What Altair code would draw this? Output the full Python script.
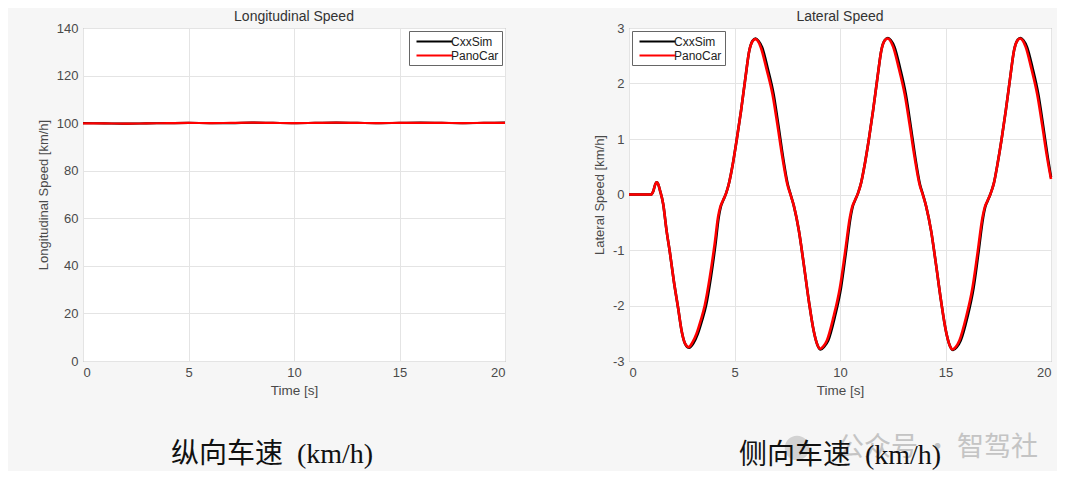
import altair as alt
import pandas as pd

# ---------------- data ----------------
series_names = ["CxxSim", "PanoCar"]
series_colors = ["#000000", "#ff0000"]

# Longitudinal speed [km/h] vs time [s]
lon_t = [0, 1, 2, 3, 4, 5, 6, 7, 8, 9, 10, 11, 12, 13, 14, 15, 16, 17, 18, 19, 20]
lon_cxx = [100.0, 99.9, 99.8, 99.9, 100.0, 100.1, 100.0, 100.0, 100.2, 100.1, 100.0,
           100.1, 100.2, 100.1, 100.0, 100.1, 100.2, 100.1, 100.0, 100.1, 100.2]
lon_pano = [99.9, 99.9, 99.8, 99.9, 100.0, 100.1, 100.0, 100.1, 100.2, 100.1, 100.0,
            100.1, 100.2, 100.1, 100.0, 100.1, 100.1, 100.1, 100.0, 100.1, 100.1]

# Lateral speed [km/h] vs time [s]
lat_pano_t = [0.0, 1.05, 1.15, 1.25, 1.31, 1.38, 1.47, 1.62, 1.78, 1.94, 2.12, 2.33, 2.49, 2.65,
              2.83, 3.00, 3.20, 3.40, 3.59, 3.83, 4.06, 4.22, 4.33, 4.45, 4.60, 4.73, 4.92, 5.11,
              5.31, 5.52, 5.70, 5.85, 5.98, 6.10, 6.25, 6.52, 6.80, 7.03, 7.27, 7.50, 7.65, 7.81,
              8.05, 8.28, 8.52, 8.75, 8.92, 9.06, 9.20, 9.38, 9.69, 10.00, 10.23, 10.47, 10.58,
              10.70, 10.85, 11.00, 11.18, 11.37, 11.57, 11.78, 11.96, 12.11, 12.25, 12.37, 12.52,
              12.79, 13.07, 13.30, 13.54, 13.77, 13.92, 14.08, 14.32, 14.55, 14.79, 15.02, 15.19,
              15.34, 15.48, 15.66, 15.97, 16.28, 16.51, 16.75, 16.86, 16.98, 17.13, 17.29, 17.47,
              17.66, 17.86, 18.07, 18.25, 18.40, 18.53, 18.65, 18.80, 19.07, 19.35, 19.58, 19.82,
              20.00]
lat_pano_v = [0.0, 0.0, 0.06, 0.19, 0.22, 0.19, 0.07, -0.17, -0.65, -1.05, -1.55, -2.05, -2.45, -2.68,
              -2.75, -2.67, -2.51, -2.27, -2.00, -1.49, -0.89, -0.41, -0.22, -0.11, 0.02, 0.19, 0.55, 1.00,
              1.51, 2.11, 2.59, 2.76, 2.80, 2.77, 2.65, 2.26, 1.81, 1.27, 0.67, 0.19, 0.00, -0.20,
              -0.65, -1.25, -1.91, -2.45, -2.70, -2.78, -2.74, -2.63, -2.21, -1.67, -1.07, -0.41, -0.22,
              -0.11, 0.02, 0.21, 0.56, 1.00, 1.52, 2.12, 2.60, 2.77, 2.81, 2.78, 2.66,
              2.27, 1.80, 1.26, 0.66, 0.18, 0.00, -0.21, -0.66, -1.26, -1.92, -2.46, -2.71,
              -2.79, -2.75, -2.63, -2.22, -1.68, -1.08, -0.42, -0.23, -0.12, 0.01, 0.20, 0.56,
              1.00, 1.52, 2.12, 2.60, 2.77, 2.81, 2.78, 2.66, 2.27, 1.80, 1.26, 0.66,
              0.28]
lat_cxx_t = [0.0, 1.05, 1.15, 1.25, 1.31, 1.38, 1.47, 1.62, 1.78, 1.94, 2.12, 2.33, 2.49, 2.66,
             2.85, 3.05, 3.26, 3.46, 3.65, 3.88, 4.10, 4.25, 4.35, 4.46, 4.60, 4.73, 4.92, 5.11,
             5.31, 5.52, 5.70, 5.86, 6.00, 6.13, 6.31, 6.58, 6.85, 7.07, 7.30, 7.52, 7.66, 7.81,
             8.05, 8.28, 8.52, 8.75, 8.93, 9.08, 9.25, 9.44, 9.75, 10.05, 10.27, 10.50, 10.60,
             10.71, 10.85, 11.00, 11.18, 11.37, 11.57, 11.78, 11.96, 12.12, 12.27, 12.41, 12.58,
             12.85, 13.12, 13.34, 13.57, 13.79, 13.93, 14.08, 14.32, 14.55, 14.79, 15.02, 15.20,
             15.36, 15.53, 15.72, 16.03, 16.33, 16.55, 16.78, 16.88, 16.99, 17.13, 17.29, 17.47,
             17.66, 17.86, 18.07, 18.25, 18.41, 18.55, 18.69, 18.86, 19.13, 19.40, 19.62, 19.85,
             20.00]
lat_cxx_v = [0.0, 0.0, 0.06, 0.19, 0.22, 0.19, 0.07, -0.17, -0.65, -1.05, -1.55, -2.05, -2.45, -2.69,
             -2.76, -2.68, -2.51, -2.27, -2.00, -1.49, -0.89, -0.41, -0.22, -0.11, 0.02, 0.19, 0.55, 1.00,
             1.51, 2.11, 2.59, 2.77, 2.81, 2.77, 2.65, 2.26, 1.81, 1.27, 0.67, 0.19, 0.00, -0.20,
             -0.65, -1.25, -1.91, -2.45, -2.71, -2.79, -2.74, -2.63, -2.21, -1.67, -1.07, -0.41, -0.22,
             -0.11, 0.02, 0.21, 0.56, 1.00, 1.52, 2.12, 2.60, 2.78, 2.82, 2.78, 2.66,
             2.27, 1.80, 1.26, 0.66, 0.18, 0.00, -0.21, -0.66, -1.26, -1.92, -2.46, -2.72,
             -2.80, -2.75, -2.63, -2.22, -1.68, -1.08, -0.42, -0.23, -0.12, 0.01, 0.20, 0.56,
             1.00, 1.52, 2.12, 2.60, 2.78, 2.82, 2.78, 2.66, 2.27, 1.80, 1.26, 0.66,
             0.31]

left_title = "Longitudinal Speed"
left_ytitle = "Longitudinal Speed [km/h]"
right_title = "Lateral Speed"
right_ytitle = "Lateral Speed [km/h]"
xtitle = "Time [s]"
left_caption = "纵向车速\u2002(km/h)"
right_caption = "侧向车速\u2002(km/h)"
watermark = "公众号 · 智驾社"

lon_df = pd.DataFrame({
    "t": lon_t + lon_t,
    "v": lon_cxx + lon_pano,
    "series": ["CxxSim"] * len(lon_t) + ["PanoCar"] * len(lon_t),
})
lat_df = pd.DataFrame({
    "t": lat_cxx_t + lat_pano_t,
    "v": lat_cxx_v + lat_pano_v,
    "series": ["CxxSim"] * len(lat_cxx_t) + ["PanoCar"] * len(lat_pano_t),
})

FONT = "Liberation Sans"
LABEL_COLOR = "#4a4a4a"
W, H = 422, 333


def text_layer(txt, x, y, **kw):
    return alt.Chart(pd.DataFrame({"c": [txt]})).mark_text(**kw).encode(
        text="c:N", x=alt.value(x), y=alt.value(y))


def panel(df, title, ytitle, ydom, yvals, legend_orient, caption, cap_x, cap_y, lw):
    xenc = alt.X("t:Q", title=xtitle,
                 scale=alt.Scale(domain=[0, 20], nice=False, zero=False),
                 axis=alt.Axis(values=[0, 5, 10, 15, 20], grid=True, gridColor="#e4e4e4",
                               domain=False, ticks=False, labelPadding=5, titlePadding=4,
                               labelFont=FONT, titleFont=FONT, labelFontSize=13, titleFontSize=13.5,
                               labelColor=LABEL_COLOR, titleColor=LABEL_COLOR,
                               titleFontWeight="normal"))
    yenc = alt.Y("v:Q", title=ytitle,
                 scale=alt.Scale(domain=ydom, nice=False, zero=False),
                 axis=alt.Axis(values=yvals, grid=True, gridColor="#e4e4e4",
                               domain=False, ticks=False, labelPadding=5, titlePadding=6,
                               labelExpr="'' + datum.value",
                               labelFont=FONT, titleFont=FONT, labelFontSize=13, titleFontSize=13,
                               labelColor=LABEL_COLOR, titleColor=LABEL_COLOR,
                               titleFontWeight="normal"))
    color = alt.Color("series:N",
                      scale=alt.Scale(domain=series_names, range=series_colors),
                      legend=alt.Legend(title=None, orient=legend_orient,
                                        symbolType="M-0.5,0H5.5",
                                        symbolSize=144, symbolStrokeWidth=2.2,
                                        labelFont=FONT, labelFontSize=12, labelColor="#222",
                                        fillColor="white", strokeColor="#666", padding=3,
                                        rowPadding=0, offset=3, labelOffset=24, cornerRadius=0))
    base = alt.Chart(df)
    black = base.transform_filter(alt.datum.series == "CxxSim").mark_line(
        strokeWidth=lw, interpolate="monotone").encode(x=xenc, y=yenc, color=color)
    red = base.transform_filter(alt.datum.series == "PanoCar").mark_line(
        strokeWidth=lw, interpolate="monotone").encode(x=xenc, y=yenc, color=color)
    ttl = text_layer(title, W / 2, -11, font=FONT, fontSize=14, color="#333",
                     align="center", baseline="middle")
    cap = text_layer(caption, cap_x, cap_y, font="Liberation Serif, 'Noto Sans CJK SC'",
                     fontSize=28, color="#111", align="center", baseline="middle")
    return alt.layer(black, red, ttl, cap).properties(width=W, height=H)


left = panel(lon_df, left_title, left_ytitle, [0, 140], [0, 20, 40, 60, 80, 100, 120, 140],
             "top-right", left_caption, 189, 427, 2.2)

wm_icon = alt.Chart(pd.DataFrame({"k": [1]})).mark_point(
    shape="circle", filled=True, color="#d2d2d2", opacity=1, size=600).encode(
    x=alt.value(168), y=alt.value(420))
wm_text = text_layer(watermark, 208, 420, font="'Noto Sans CJK SC'", fontSize=27,
                     color="#c4c4c4", align="left", baseline="middle")

right_core = panel(lat_df, right_title, right_ytitle, [-3, 3], [-3, -2, -1, 0, 1, 2, 3],
                   "top-left", right_caption, 211, 428, 2.6)
right = alt.layer(wm_icon, wm_text, right_core).properties(width=W, height=H)

chart = alt.hconcat(left, right, spacing=82).properties(
    background="#f6f6f6",
    padding={"left": 28, "top": 1, "right": 0, "bottom": 0},
).configure_view(stroke="#8f8f8f", strokeWidth=1, fill="white").resolve_scale(color="independent")

chart.save("out.html", embed_options={"renderer": "svg", "actions": False})
